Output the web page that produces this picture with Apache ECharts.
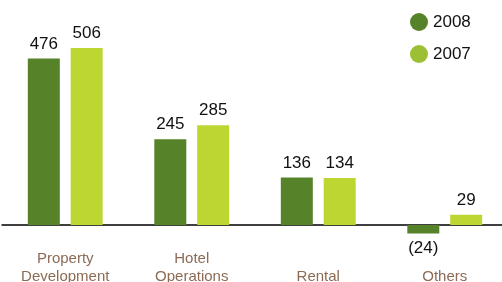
<!DOCTYPE html>
<html>
<head>
<meta charset="utf-8">
<script src="https://cdn.jsdelivr.net/npm/echarts@6/dist/echarts.min.js"></script>
<style>
    html, body { margin: 0; padding: 0; background: #fff; }
    #chart { width: 502px; height: 282px; }
</style>
</head>
<body>
<div id="chart"></div>
<script>
// 分类 / 数值
var categories = ['Property\nDevelopment', 'Hotel\nOperations', '\nRental', '\nOthers'];
var values2008 = [476, 245, 136, -24];
var values2007 = [506, 285, 134, 29];

var dark = '#56832a';
var light = '#bdd631';

function labelText(p) {
    return p.value < 0 ? '(' + Math.abs(p.value) + ')' : String(p.value);
}

// 负值标签放在柱子下方
function toData(arr) {
    return arr.map(function (v) {
        if (v < 0) return { value: v, label: { position: 'bottom' } };
        return v;
    });
}

var chart = echarts.init(document.getElementById('chart'));
var option = {
    animation: false,
    textStyle: { fontFamily: 'Liberation Sans, Arial, sans-serif' },
    legend: {
        orient: 'vertical',
        left: 405,
        top: 8,
        icon: 'circle',
        itemWidth: 18,
        itemHeight: 18,
        itemGap: 14,
        textStyle: { fontSize: 17, color: '#111' },
        data: [
            { name: '2008', itemStyle: { color: dark } },
            { name: '2007', itemStyle: { color: '#9cbf34' } }
        ]
    },
    grid: { left: 2, right: -6, top: 15, bottom: 36, outerBoundsMode: 'none', containLabel: false },
    xAxis: {
        type: 'category',
        data: categories,
        axisLine: { onZero: true, lineStyle: { color: '#000', width: 1.5 } },
        axisTick: { show: false },
        axisLabel: {
            margin: 4,
            fontSize: 15,
            lineHeight: 18,
            color: '#8c6b55'
        }
    },
    yAxis: {
        type: 'value',
        min: -60,
        max: 600,
        show: false,
        splitLine: { show: false }
    },
    series: [
        {
            name: '2008',
            type: 'bar',
            barWidth: 32,
            barGap: '34%',
            itemStyle: { color: dark },
            label: { show: true, position: 'top', distance: 6, fontSize: 17, color: '#111', formatter: labelText },
            data: toData(values2008)
        },
        {
            name: '2007',
            type: 'bar',
            barWidth: 32,
            itemStyle: { color: light },
            label: { show: true, position: 'top', distance: 6, fontSize: 17, color: '#111', formatter: labelText },
            data: toData(values2007)
        }
    ]
};
chart.setOption(option);
</script>
</body>
</html>
